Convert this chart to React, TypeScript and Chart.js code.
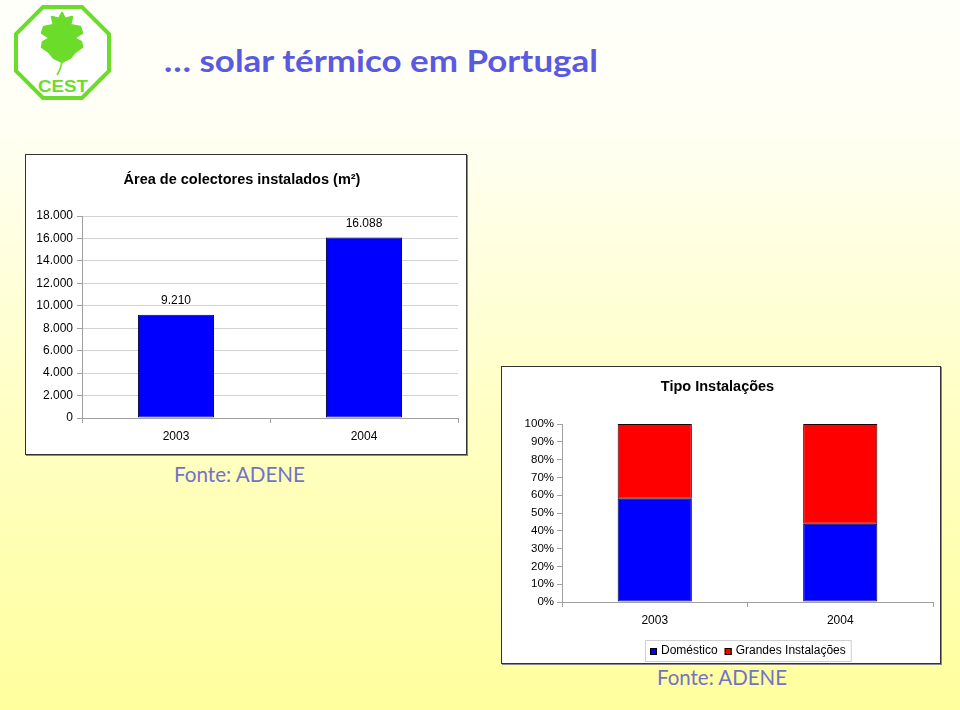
import React, { useEffect, useRef } from "react";
import { Chart, registerables } from "chart.js";

Chart.register(...registerables);

// ---------- data ----------
const areaTitle = "Área de colectores instalados (m²)";
const areaCategories = ["2003", "2004"];
const areaValues = [9210, 16088];
const areaTickLabels = ["0", "2.000", "4.000", "6.000", "8.000", "10.000", "12.000", "14.000", "16.000", "18.000"];

const tipoTitle = "Tipo Instalações";
const tipoCategories = ["2003", "2004"];
const seriesNames = ["Doméstico", "Grandes Instalações"];
const domesticoPct = [58, 44];
const grandesPct = [42, 56];
const tipoTickLabels = ["0%", "10%", "20%", "30%", "40%", "50%", "60%", "70%", "80%", "90%", "100%"];

const FONT = "'Liberation Sans', Arial, Helvetica, sans-serif";

function fmtPt(n: number): string {
  return String(n).replace(/\B(?=(\d{3})+(?!\d))/g, ".");
}

const valueLabelPlugin = {
  id: "valueLabels",
  afterDatasetsDraw(chart: any) {
    const ctx = chart.ctx;
    const meta = chart.getDatasetMeta(0);
    const ds = chart.data.datasets[0];
    ctx.save();
    ctx.font = `12px ${FONT}`;
    ctx.fillStyle = "#000";
    ctx.textAlign = "center";
    ctx.textBaseline = "middle";
    meta.data.forEach((bar: any, i: number) => {
      ctx.fillText(fmtPt(ds.data[i] as number), bar.x, bar.y - 14);
    });
    ctx.restore();
  },
};

const boxLegendPlugin = {
  id: "boxLegend",
  afterDraw(chart: any) {
    const ctx = chart.ctx;
    const ca = chart.chartArea;
    ctx.save();
    ctx.font = `12px ${FONT}`;
    const sq = 7, gap = 4, itemGap = 7, pad = 5;
    const items = chart.data.datasets.map((d: any) => ({
      label: d.label,
      color: d.backgroundColor,
      w: ctx.measureText(d.label).width,
    }));
    const total =
      pad * 2 +
      items.reduce((s: number, it: any) => s + sq + gap + it.w, 0) +
      itemGap * (items.length - 1);
    const cx = (ca.left + ca.right) / 2;
    const x0 = Math.round(cx - total / 2);
    const h = 21;
    const y0 = chart.height - 23;
    ctx.fillStyle = "#fff";
    ctx.fillRect(x0, y0, total, h);
    ctx.strokeStyle = "#cfcfcf";
    ctx.lineWidth = 1;
    ctx.strokeRect(x0 + 0.5, y0 + 0.5, total, h);
    let x = x0 + pad;
    const cy = y0 + h / 2 + 0.5;
    items.forEach((it: any) => {
      ctx.fillStyle = it.color;
      ctx.fillRect(x, Math.round(cy - 3.5), sq, sq);
      ctx.strokeStyle = "#000";
      ctx.strokeRect(x + 0.5, Math.round(cy - 3.5) + 0.5, sq - 1, sq - 1);
      x += sq + gap;
      ctx.fillStyle = "#000";
      ctx.textAlign = "left";
      ctx.textBaseline = "middle";
      ctx.fillText(it.label, x, cy);
      x += it.w + itemGap;
    });
    ctx.restore();
  },
};

function AreaChart() {
  const ref = useRef<HTMLCanvasElement | null>(null);
  useEffect(() => {
    if (!ref.current) return;
    const chart = new Chart(ref.current, {
      type: "bar",
      data: {
        labels: areaCategories,
        datasets: [
          {
            label: areaTitle,
            data: areaValues,
            backgroundColor: "#0000ff",
            borderColor: "#000033",
            borderWidth: 1,
            borderSkipped: false,
            categoryPercentage: 1,
            barPercentage: 0.405,
          },
        ],
      },
      options: {
        animation: false,
        responsive: false,
        maintainAspectRatio: false,
        layout: { padding: { left: 0, right: 8, top: 0, bottom: 0 } },
        plugins: {
          legend: { display: false },
          tooltip: { enabled: false },
          title: {
            display: true,
            text: areaTitle,
            color: "#000",
            font: { family: FONT, size: 14.5, weight: "bold", lineHeight: 1.2 },
            padding: { top: 16.3, bottom: 27.3 },
          },
        },
        scales: {
          x: {
            grid: { display: true, drawOnChartArea: false, drawTicks: true, tickLength: 5, color: "#a0a0a0", offset: true },
            border: { color: "#a0a0a0" },
            ticks: { color: "#000", font: { family: FONT, size: 12 }, padding: 6 },
            afterFit(s: any) { s.height = 36; },
          },
          y: {
            min: 0,
            max: 18000,
            ticks: {
              stepSize: 2000,
              color: "#000",
              font: { family: FONT, size: 12 },
              padding: 4,
              callback: (_v: any, i: number) => areaTickLabels[i],
            },
            grid: { color: "#d2d2d2", tickColor: "#a0a0a0", tickLength: 5 },
            border: { color: "#a0a0a0" },
            afterFit(s: any) { s.width = 56; },
          },
        },
      },
      plugins: [valueLabelPlugin],
    } as any);
    return () => chart.destroy();
  }, []);
  return <canvas ref={ref} width={440} height={299} style={{ display: "block" }} />;
}

function TipoChart() {
  const ref = useRef<HTMLCanvasElement | null>(null);
  useEffect(() => {
    if (!ref.current) return;
    const chart = new Chart(ref.current, {
      type: "bar",
      data: {
        labels: tipoCategories,
        datasets: [
          {
            label: seriesNames[0],
            data: domesticoPct,
            backgroundColor: "#0000ff",
            borderColor: "#000033",
            borderWidth: 1,
            borderSkipped: false,
            categoryPercentage: 1,
            barPercentage: 0.4,
          },
          {
            label: seriesNames[1],
            data: grandesPct,
            backgroundColor: "#ff0000",
            borderColor: "#220000",
            borderWidth: 1,
            borderSkipped: false,
            categoryPercentage: 1,
            barPercentage: 0.4,
          },
        ],
      },
      options: {
        animation: false,
        responsive: false,
        maintainAspectRatio: false,
        layout: { padding: { left: 0, right: 7, top: 0, bottom: 0 } },
        plugins: {
          legend: { display: false },
          tooltip: { enabled: false },
          title: {
            display: true,
            text: tipoTitle,
            color: "#000",
            font: { family: FONT, size: 14.5, weight: "bold", lineHeight: 1.2 },
            padding: { top: 11, bottom: 28.6 },
          },
        },
        scales: {
          x: {
            stacked: true,
            grid: { display: true, drawOnChartArea: false, drawTicks: true, tickLength: 5, color: "#a0a0a0", offset: true },
            border: { color: "#a0a0a0" },
            ticks: { color: "#000", font: { family: FONT, size: 12 }, padding: 6 },
            afterFit(s: any) { s.height = 61; },
          },
          y: {
            stacked: true,
            min: 0,
            max: 100,
            ticks: {
              stepSize: 10,
              color: "#000",
              font: { family: FONT, size: 11.5 },
              padding: 3,
              callback: (_v: any, i: number) => tipoTickLabels[i],
            },
            grid: { drawOnChartArea: false, drawTicks: true, tickColor: "#a0a0a0", tickLength: 5 },
            border: { color: "#a0a0a0" },
            afterFit(s: any) { s.width = 60; },
          },
        },
      },
      plugins: [boxLegendPlugin],
    } as any);
    return () => chart.destroy();
  }, []);
  return <canvas ref={ref} width={438} height={296} style={{ display: "block" }} />;
}

const boxStyle: React.CSSProperties = {
  position: "absolute",
  boxSizing: "border-box",
  border: "1px solid #333",
  boxShadow: "1px 1px 0 #8a8a8a",
  background: "#fff",
  overflow: "hidden",
};

export default function App() {
  const green = "#6bdc2a";
  return (
    <div
      style={{
        position: "fixed",
        left: 0,
        top: 0,
        width: 960,
        height: 710,
        overflow: "hidden",
        background: "linear-gradient(180deg, #fffffb 0%, #fffff4 18%, #ffffc8 55%, #ffff9e 100%)",
      }}
    >
      <svg width={960} height={710} style={{ position: "absolute", left: 0, top: 0 }}>
        {/* logo */}
        <polygon
          points="43,7 82,7 109,34 109,71 82,98 43,98 16,71 16,34"
          fill="#fff"
          stroke={green}
          strokeWidth={4}
          strokeLinejoin="miter"
        />
        <path
          d="M62,13 L65,19 L72,17 L70,25 L80,27 L82,33 L74,38 L81,42 L82,47 L75,52 L70,58 L62,62 L54,58 L49,52 L42,47 L43,42 L50,38 L42,33 L44,27 L54,25 L52,17 L59,19 Z"
          fill={green}
          stroke={green}
          strokeWidth={2.5}
          strokeLinejoin="round"
        />
        <path d="M62,60 Q61.5,68 57,75" fill="none" stroke={green} strokeWidth={1.6} />
        <text
          x={38}
          y={92}
          fontFamily="'Liberation Sans', Arial, sans-serif"
          fontWeight="bold"
          fontSize={17}
          fill={green}
          textLength={50}
          lengthAdjust="spacingAndGlyphs"
        >
          CEST
        </text>
        {/* header */}
        <text
          x={164}
          y={72}
          fontFamily="Lato, 'DejaVu Sans', sans-serif"
          fontWeight="bold"
          fontSize={30}
          fill="#5a5ae0"
          textLength={434}
          lengthAdjust="spacingAndGlyphs"
        >
          … solar térmico em Portugal
        </text>
        <text
          x={174}
          y={482}
          fontFamily="Lato, 'DejaVu Sans', sans-serif"
          fontSize={21}
          fill="#7272c8"
          textLength={131}
          lengthAdjust="spacingAndGlyphs"
        >
          Fonte: ADENE
        </text>
        <text
          x={657}
          y={685}
          fontFamily="Lato, 'DejaVu Sans', sans-serif"
          fontSize={21}
          fill="#7272c8"
          textLength={130}
          lengthAdjust="spacingAndGlyphs"
        >
          Fonte: ADENE
        </text>
      </svg>
      <div style={{ ...boxStyle, left: 25, top: 154, width: 442, height: 301 }}>
        <AreaChart />
      </div>
      <div style={{ ...boxStyle, left: 501, top: 366, width: 440, height: 298 }}>
        <TipoChart />
      </div>
    </div>
  );
}
